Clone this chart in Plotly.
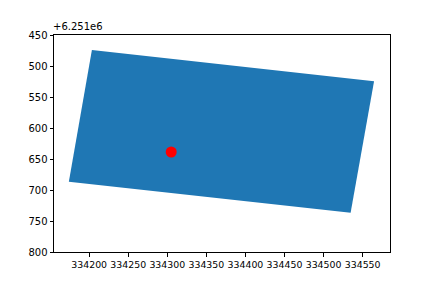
import plotly.graph_objects as go

OFFSET_Y = 6251000
poly_x = [334203.5, 334564.6, 334534.6, 334174.0, 334203.5]
poly_y_rel = [474.2, 524.7, 736.6, 686.6, 474.2]
point_x = [334305.0]
point_y_rel = [638.7]
x_ticks = [334200, 334250, 334300, 334350, 334400, 334450, 334500, 334550]
y_ticks_rel = [450, 500, 550, 600, 650, 700, 750, 800]

poly_y = [OFFSET_Y + v for v in poly_y_rel]
point_y = [OFFSET_Y + v for v in point_y_rel]

fig = go.Figure()
fig.add_trace(go.Scatter(x=poly_x, y=poly_y, mode="lines", fill="toself",
                         fillcolor="#1f77b4", line=dict(width=0, color="#1f77b4"),
                         hoverinfo="skip", showlegend=False))
fig.add_trace(go.Scatter(x=point_x, y=point_y, mode="markers",
                         marker=dict(color="red", size=11, line=dict(width=0)),
                         showlegend=False))

axis_common = dict(showgrid=False, zeroline=False, showline=True, linecolor="black",
                   linewidth=1, mirror=True, ticks="outside", ticklen=3.5,
                   tickwidth=1, tickcolor="black", automargin=False, tickangle=0,
                   tickfont=dict(family="DejaVu Sans", size=10, color="black"))

fig.update_layout(
    width=432, height=288,
    margin=dict(l=54, r=42, t=35, b=36),
    paper_bgcolor="white", plot_bgcolor="white",
    xaxis=dict(range=[334155, 334585], tickvals=x_ticks,
               ticktext=[str(v) for v in x_ticks], **axis_common),
    yaxis=dict(range=[OFFSET_Y + 800, OFFSET_Y + 450],
               tickvals=[OFFSET_Y + v for v in y_ticks_rel],
               ticktext=[str(v) for v in y_ticks_rel], **axis_common),
    annotations=[dict(text="+6.251e6", xref="paper", yref="paper", x=0.072, y=1,
                      xanchor="center", yanchor="bottom", showarrow=False,
                      yshift=1,
                      font=dict(family="DejaVu Sans", size=10, color="black"))],
)
fig.update_xaxes(tickfont=dict(size=9.4))

fig.write_html("out.html")
